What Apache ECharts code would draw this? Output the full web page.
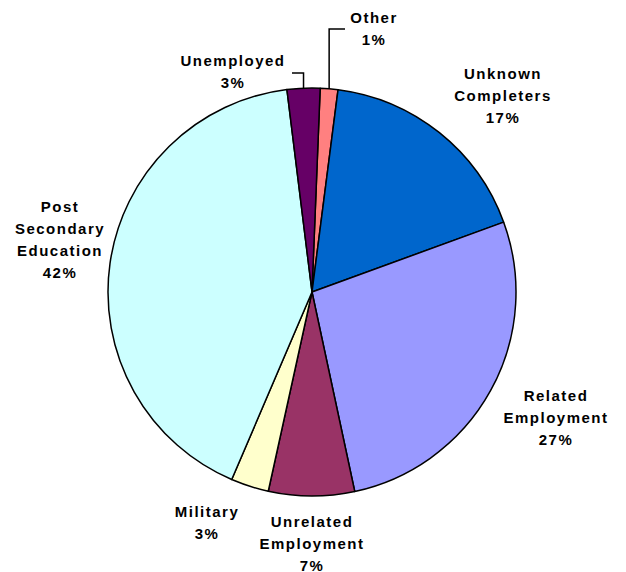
<!DOCTYPE html>
<html>
<head>
<meta charset="utf-8">
<script src="https://cdn.jsdelivr.net/npm/echarts@6/dist/echarts.min.js"></script>
<style>
  html, body { margin: 0; padding: 0; background: #fff; }
  #chart { width: 626px; height: 572px; }
  #chart svg text { letter-spacing: 1.5px; }
</style>
</head>
<body>
<div id="chart"></div>
<script>
// Outcomes of completers — pie, clockwise from just right of 12 o'clock
const categories = ['Other', 'Unknown\nCompleters', 'Related\nEmployment', 'Unrelated\nEmployment',
    'Military', 'Post\nSecondary\nEducation', 'Unemployed'];
const shares = [1.4, 17.4, 27.2, 6.8, 3.0, 41.6, 2.6];
const sliceColors = ['#FF8080', '#0066CC', '#9999FF', '#993366', '#FFFFCC', '#CCFFFF', '#660066'];

// label block centres (px) and, for leader-lined labels, where the line ends
const labelPos = [
    { x: 374, y: 28, lineY: 29, lineEnd: 345 },
    { x: 503, y: 95 },
    { x: 556, y: 417 },
    { x: 312, y: 543 },
    { x: 207, y: 522 },
    { x: 60, y: 239 },
    { x: 233, y: 71, lineY: 73, lineEnd: 292 }
];

const chart = echarts.init(document.getElementById('chart'), null, { renderer: 'svg' });

const option = {
    animation: false,
    series: [{
        type: 'pie',
        center: [312, 292],
        radius: 204,
        startAngle: 87.7,
        clockwise: true,
        avoidLabelOverlap: false,
        itemStyle: { borderColor: '#000', borderWidth: 1.5 },
        label: {
            show: true,
            position: 'outside',
            color: '#000',
            fontFamily: 'Arial, "Liberation Sans", sans-serif',
            fontWeight: 'bold',
            fontSize: 15,
            lineHeight: 22,
            align: 'center',
            formatter: p => p.name + '\n' + Math.round(p.value) + '%'
        },
        labelLine: { show: false, lineStyle: { color: '#000', width: 1.5 } },
        labelLayout: function (params) {
            const pos = labelPos[params.dataIndex];
            const out = { x: pos.x, y: pos.y, align: 'center', verticalAlign: 'middle' };
            if (pos.lineY != null && params.labelLinePoints) {
                const p0 = params.labelLinePoints[0];
                out.labelLinePoints = [[p0[0], p0[1]], [p0[0], pos.lineY], [pos.lineEnd, pos.lineY]];
            }
            return out;
        },
        data: categories.map((c, i) => ({
            name: c,
            value: shares[i],
            itemStyle: { color: sliceColors[i] },
            labelLine: { show: i === 0 || i === 6 }
        }))
    }]
};

chart.setOption(option);
window.addEventListener('resize', () => chart.resize());
</script>
</body>
</html>
